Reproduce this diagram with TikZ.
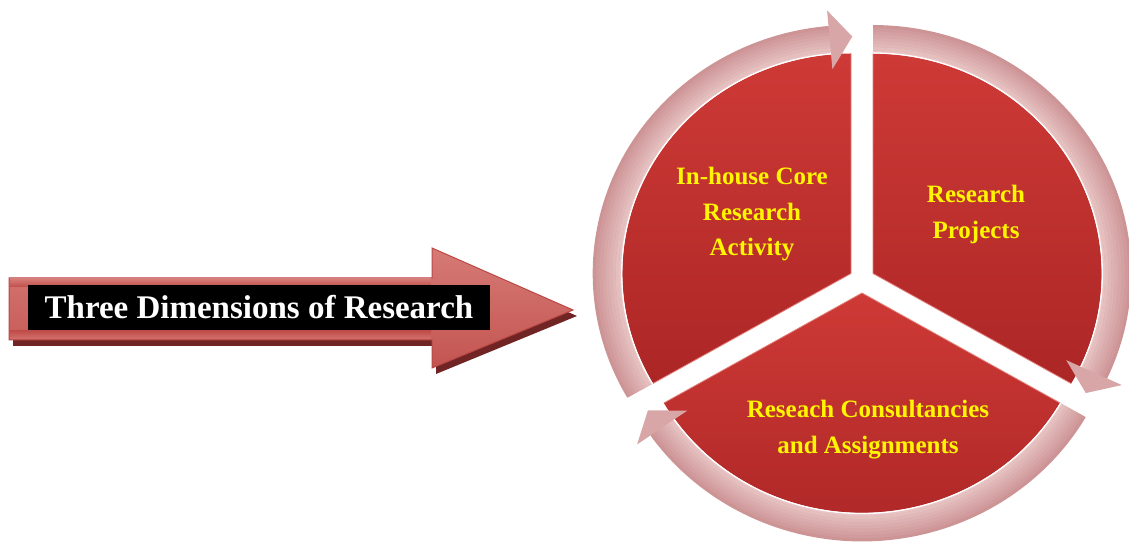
\documentclass[tikz,border=0pt]{standalone}
\usepackage{fontspec}
\setmainfont{Liberation Serif}
\definecolor{secTop}{RGB}{206,58,54}
\definecolor{secBot}{RGB}{172,38,38}
\definecolor{secEdge}{RGB}{228,128,122}
\definecolor{ringOut}{RGB}{204,146,148}
\definecolor{ringIn}{RGB}{232,196,196}
\definecolor{ringC}{RGB}{216,166,166}
\definecolor{arrowRed}{RGB}{192,78,74}
\definecolor{arrowLight}{RGB}{214,122,118}
\definecolor{arrowEdge}{RGB}{186,72,68}
\definecolor{arrowShadow}{RGB}{112,36,36}
\definecolor{txtYellow}{RGB}{255,246,0}
\tikzset{
  lbl/.style={text=txtYellow, font=\bfseries\fontsize{25}{35.5}\selectfont, align=center, inner sep=0pt},
  sector/.style={top color=secTop, bottom color=secBot},
  sectoredge/.style={draw=secEdge, line width=0.8pt}
}
% #1 start angle, #2 base angle of the arrow head (clockwise travel)
\newcommand\ringarrow[2]{%
  \fill[ringC] (#1:247) arc[start angle=#1, end angle=#2, radius=247]
     -- (#2:264) -- ({#2-5.3}:237) -- (#2:205) -- (#2:220)
     arc[start angle=#2, end angle=#1, radius=220] -- cycle;
  \foreach \i in {0,...,8}{%
    \pgfmathtruncatemacro\pc{100-\i*12}%
    \draw[ringIn!\pc!ringOut, line width=3.3pt]
      (#1:{221.6+3.15*\i}) arc[start angle=#1, end angle=#2, radius={221.6+3.15*\i}];
  }%
  \draw[white, line width=1.3pt] (#1:220.5) arc[start angle=#1, end angle=#2, radius=220.5];
}
\begin{document}
\begin{tikzpicture}[x=1pt,y=1pt]
\useasboundingbox (0,0) rectangle (1129,543);

% ---------- left block arrow ----------
\begin{scope}[shift={(4,-6)}]
  \fill[arrowShadow] (9,265) -- (432,265) -- (432,295) -- (573,233) -- (432,175) -- (432,203) -- (9,203) -- cycle;
\end{scope}
\shade[top color=arrowLight, middle color=arrowRed, bottom color=arrowRed!85!arrowLight, draw=arrowEdge, line width=1pt]
  (9,265) -- (432,265) -- (432,295) -- (573,233) -- (432,175) -- (432,203) -- (9,203) -- cycle;
\shade[top color=arrowLight, bottom color=arrowRed]
  (10,264) rectangle (431,256);
\shade[top color=arrowRed, bottom color=arrowLight!80!arrowRed]
  (10,212) rectangle (431,204);
\node[fill=black, text=white, font=\bfseries\fontsize{33}{38}\selectfont,
      minimum width=462pt, minimum height=45pt, inner sep=0pt] (title) at (259,235.5) {Three Dimensions of Research};

% ---------- segmented cycle ----------
% left sector
\begin{scope}[shift={(851,269.5)}, xscale=1.04]
  \shade[sector] (0,0) -- (90:220) arc[start angle=90, end angle=210, radius=220] -- cycle;
  \draw[sectoredge] (90:220) -- (0,0) -- (210:220);
  \ringarrow{210}{95}
\end{scope}
% right sector
\begin{scope}[shift={(873,269.5)}, xscale=1.04]
  \shade[sector] (0,0) -- (-30:220) arc[start angle=-30, end angle=90, radius=220] -- cycle;
  \draw[sectoredge] (90:220) -- (0,0) -- (-30:220);
  \ringarrow{90}{-25}
\end{scope}
% bottom sector
\begin{scope}[shift={(862,250)}, xscale=1.04]
  \shade[sector] (0,0) -- (210:220) arc[start angle=210, end angle=330, radius=220] -- cycle;
  \draw[sectoredge] (210:220) -- (0,0) -- (330:220);
  \ringarrow{-30}{-145}
\end{scope}

\node[lbl, anchor=north] (inhouse) at (752,376) {In-house Core\\Research\\Activity};
\node[lbl, anchor=north] (projects) at (976,358) {Research\\Projects};
\node[lbl, anchor=north] (consult) at (868,143) {Reseach Consultancies\\and Assignments};
\end{tikzpicture}
\end{document}
